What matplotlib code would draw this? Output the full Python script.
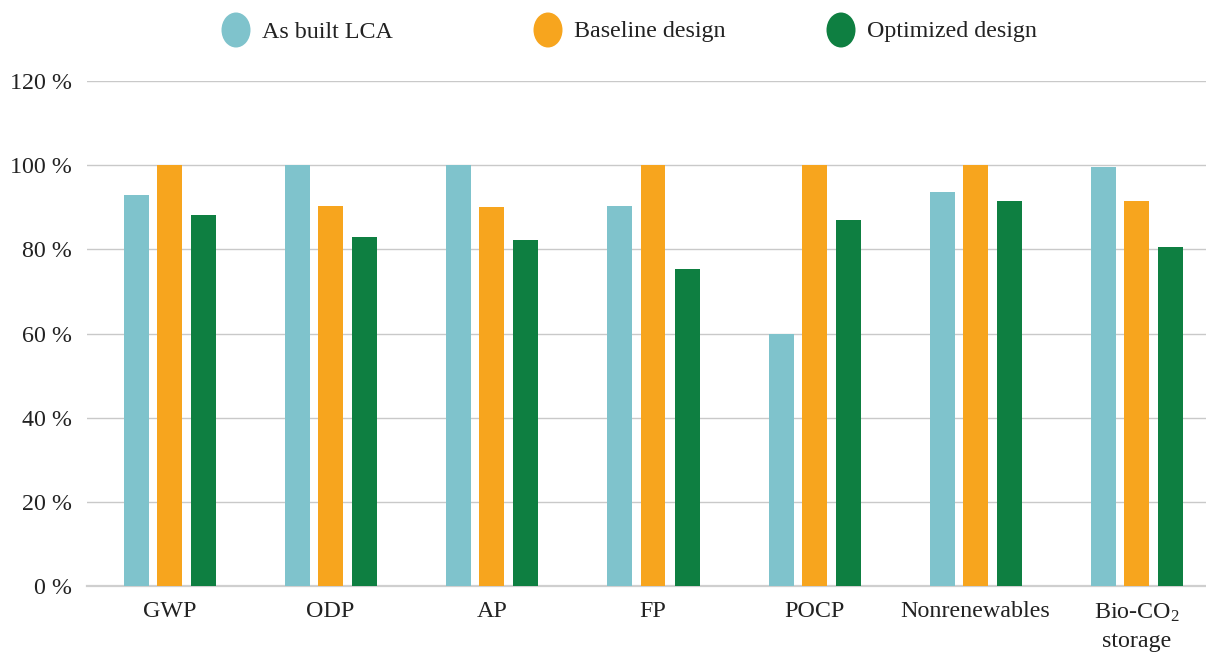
import numpy as np
import matplotlib
matplotlib.use("Agg")
import matplotlib.pyplot as plt
from matplotlib.patches import Ellipse

plt.rcParams['font.family'] = ['Liberation Serif', 'DejaVu Serif']
plt.rcParams['mathtext.fontset'] = 'custom'
plt.rcParams['mathtext.rm'] = 'Liberation Serif'
plt.rcParams['mathtext.default'] = 'regular'

# impact categories and relative results (% of the highest value per category)
categories = ['GWP', 'ODP', 'AP', 'FP', 'POCP', 'Nonrenewables', 'Bio-CO$_2$\nstorage']
as_built = [93.0, 100.0, 100.0, 90.2, 60.0, 93.7, 99.6]
baseline = [100.0, 90.2, 90.0, 100.0, 100.0, 100.0, 91.5]
optimized = [88.2, 82.9, 82.2, 75.3, 87.0, 91.5, 80.6]

series_names = ['As built LCA', 'Baseline design', 'Optimized design']
colors = ['#7fc3cc', '#f7a51e', '#0e7f41']
y_ticks = [0, 20, 40, 60, 80, 100, 120]

fig = plt.figure(figsize=(12.06, 6.55), dpi=100)
ax = fig.add_axes([0.0721, 0.1053, 0.9279, 0.7710])

x = np.arange(len(categories))
width = 0.155
offsets = [-0.205, 0.0, 0.211]
for vals, off, c in zip([as_built, baseline, optimized], offsets, colors):
    ax.bar(x + off, vals, width, color=c, zorder=3)

ax.set_xlim(-0.512, 6.431)
ax.set_ylim(0, 120)
ax.set_yticks(y_ticks)
ax.set_yticklabels([f'{t} %' for t in y_ticks])
ax.set_xticks(x)
ax.set_xticklabels(categories, linespacing=1.45)
ax.tick_params(axis='both', length=0, labelsize=17.3, colors='#222222')
ax.tick_params(axis='y', pad=10.5)
ax.tick_params(axis='x', pad=11)
ax.yaxis.grid(True, color='#c9c9c9', linewidth=1.0, zorder=0)
for s in ['top', 'right', 'left']:
    ax.spines[s].set_visible(False)
ax.spines['bottom'].set_color('#cfcfcf')
ax.spines['bottom'].set_linewidth(1.6)

# legend row across the top
W, H = 1206, 655
marker_x = [236, 548, 841]
for mx, name, c in zip(marker_x, series_names, colors):
    fig.add_artist(Ellipse((mx / W, 1 - 30 / H), 29 / W, 35 / H,
                           transform=fig.transFigure, color=c, lw=0))
    fig.text((mx + 26) / W, 1 - 32 / H, name, fontsize=17.3,
             color='#222222', va='center', ha='left')

fig.savefig('out.png', dpi=100)
